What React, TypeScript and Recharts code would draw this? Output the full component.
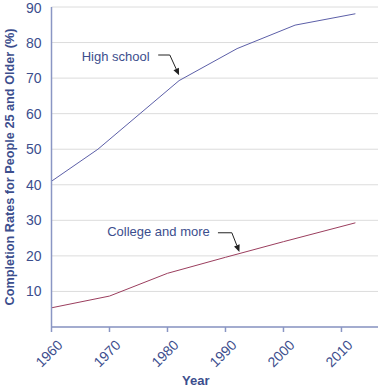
import React from 'react';
import { LineChart, Line, XAxis, YAxis, CartesianGrid, ReferenceLine, ReferenceDot } from 'recharts';

const highSchoolYears = [1960, 1968, 1982, 1992, 2002, 2012.4];
const highSchoolValues = [41, 50, 69.3, 78.3, 84.9, 88.1];
const collegeYears = [1960, 1970, 1980, 1990, 2000, 2012.4];
const collegeValues = [5.4, 8.7, 15.1, 19.6, 24.0, 29.3];
const xTicks = [1960, 1970, 1980, 1990, 2000, 2010];
const yTicks = [10, 20, 30, 40, 50, 60, 70, 80, 90];

const highSchool = highSchoolYears.map((year, i) => ({ year, value: highSchoolValues[i] }));
const college = collegeYears.map((year, i) => ({ year, value: collegeValues[i] }));

const TEXT = '#3c4e8d';
const FONT = 'Arial, "Liberation Sans", sans-serif';

const XTick = (props: any) => {
  const { x, y, payload } = props;
  const ax = x + 12;
  const ay = y + 12;
  return (
    <text
      x={ax}
      y={ay}
      transform={`rotate(-45, ${ax}, ${ay})`}
      textAnchor="end"
      fill={TEXT}
      fontSize={14}
      fontFamily={FONT}
    >
      {payload.value}
    </text>
  );
};

const YLabel = (props: any) => {
  const vb = props.viewBox || {};
  const cy = (vb.y ?? 7) + (vb.height ?? 320) / 2;
  const cx = 14;
  return (
    <text
      x={cx}
      y={cy}
      transform={`rotate(-90, ${cx}, ${cy})`}
      textAnchor="middle"
      fill={TEXT}
      fontSize={12.7}
      fontWeight="bold"
      fontFamily={FONT}
    >
      Completion Rates for People 25 and Older (%)
    </text>
  );
};

const ArrowLine = (props: any) => {
  const { x1, y1, x2, y2 } = props;
  const dx = x2 - x1;
  const dy = y2 - y1;
  const len = Math.sqrt(dx * dx + dy * dy) || 1;
  const ux = dx / len;
  const uy = dy / len;
  const hl = 7;
  const hw = 3;
  const bx = x2 - ux * hl;
  const by = y2 - uy * hl;
  const p1 = `${bx - uy * hw},${by + ux * hw}`;
  const p2 = `${bx + uy * hw},${by - ux * hw}`;
  return (
    <g>
      <line x1={x1} y1={y1} x2={bx} y2={by} stroke="#222" strokeWidth={1} />
      <polygon points={`${x2},${y2} ${p1} ${p2}`} fill="#222" />
    </g>
  );
};

const PlainLine = (props: any) => {
  const { x1, y1, x2, y2 } = props;
  return <line x1={x1} y1={y1} x2={x2} y2={y2} stroke="#222" strokeWidth={1} />;
};

const makeLabel = (txt: string) => (props: any) => (
  <text x={props.cx} y={props.cy} dy={4.5} textAnchor="start" fill={TEXT} fontSize={13} fontFamily={FONT}>
    {txt}
  </text>
);

const HighLabel = makeLabel('High school');
const CollegeLabel = makeLabel('College and more');

export default function App() {
  return (
    <div style={{ position: 'absolute', left: 0, top: 0, background: '#fff' }}>
      <LineChart width={379} height={391} margin={{ top: 7, right: 1, left: 0, bottom: 0 }}>
        <CartesianGrid horizontal={true} vertical={false} stroke="#dcdcdc" />
        <XAxis
          type="number"
          dataKey="year"
          domain={[1960, 2016.3]}
          ticks={xTicks}
          allowDuplicatedCategory={false}
          height={64}
          stroke="#8a96c4"
          strokeWidth={1.5}
          tickSize={5}
          tick={<XTick />}
          label={{ value: 'Year', position: 'insideBottom', offset: 6, dx: -19, fill: TEXT, fontSize: 13, fontWeight: 'bold', fontFamily: FONT }}
        />
        <YAxis
          type="number"
          domain={[0, 90]}
          ticks={yTicks}
          width={51.5}
          stroke="#8a96c4"
          strokeWidth={1.5}
          tickLine={false}
          tickSize={6}
          tickMargin={4}
          tick={{ fill: TEXT, fontSize: 14, fontFamily: FONT }}
          label={<YLabel />}
        />
        <Line data={highSchool} dataKey="value" type="linear" stroke="#5c5fa8" strokeWidth={1} dot={false} isAnimationActive={false} />
        <Line data={college} dataKey="value" type="linear" stroke="#9b3e5e" strokeWidth={1} dot={false} isAnimationActive={false} />
        <ReferenceDot x={1965.2} y={76.2} r={0} shape={<HighLabel />} />
        <ReferenceDot x={1969.6} y={27.0} r={0} shape={<CollegeLabel />} />
        <ReferenceLine segment={[{ x: 1978.4, y: 76.5 }, { x: 1980.4, y: 76.5 }]} shape={<PlainLine />} />
        <ReferenceLine segment={[{ x: 1980.4, y: 76.5 }, { x: 1982.0, y: 70.8 }]} shape={<ArrowLine />} />
        <ReferenceLine segment={[{ x: 1988.7, y: 26.5 }, { x: 1991.1, y: 26.5 }]} shape={<PlainLine />} />
        <ReferenceLine segment={[{ x: 1991.1, y: 26.5 }, { x: 1992.4, y: 21.1 }]} shape={<ArrowLine />} />
      </LineChart>
    </div>
  );
}
